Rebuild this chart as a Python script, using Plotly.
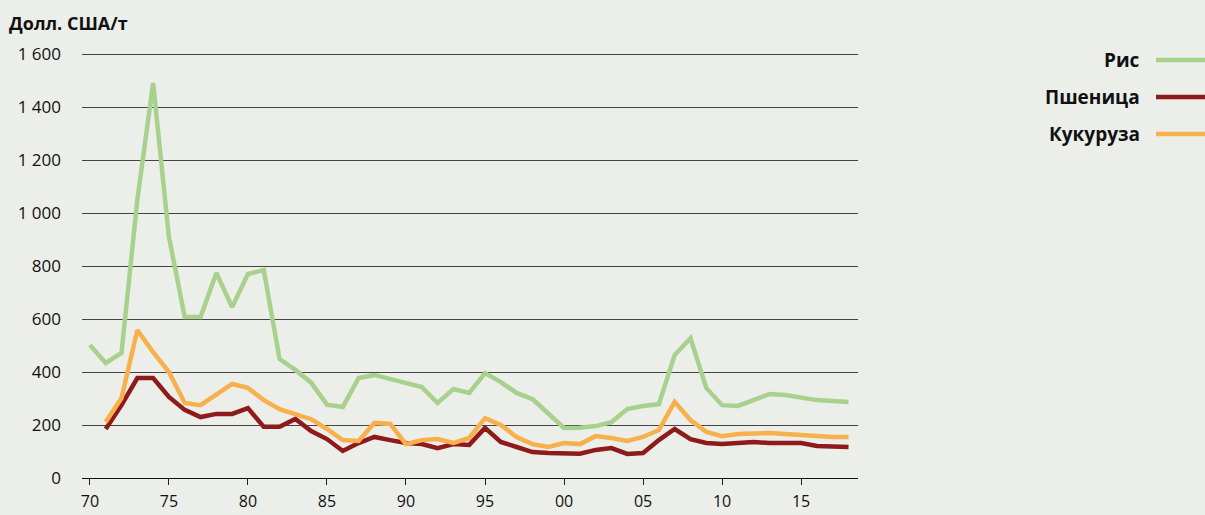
import plotly.graph_objects as go

years = list(range(1970, 2019))
rice = [502, 434, 472, 1049, 1491, 910, 608, 608, 774, 645, 770, 785, 449, 408, 360,
        277, 268, 377, 389, 374, 362, 343, 283, 336, 321, 396, 362, 321, 298, 242,
        189, 190, 196, 211, 260, 272, 279, 464, 528, 340, 275, 272, 294, 317, 313,
        302, 294, 291, 287]
wheat_years = list(range(1971, 2019))
wheat = [185, 275, 377, 377, 306, 257, 230, 242, 242, 264, 193, 193, 223, 177,
         147, 102, 132, 155, 143, 132, 128, 113, 128, 125, 189, 136, 117, 98, 94,
         91, 92, 106, 113, 91, 94, 143, 185, 147, 132, 128, 132, 136, 132, 132,
         132, 121, 117, 117]
maize = [211, 302, 558, 475, 400, 283, 275, 313, 355, 340, 294, 260, 242, 222,
         185, 143, 140, 208, 204, 128, 143, 147, 132, 151, 226, 200, 155, 128, 117,
         132, 128, 158, 151, 140, 155, 181, 287, 219, 174, 158, 166, 170, 170, 166,
         162, 158, 155, 155]

series_names = ["Рис", "Пшеница", "Кукуруза"]
series_colors = ["#A9D18E", "#8E1A1B", "#F8B04C"]

y_ticks = [0, 200, 400, 600, 800, 1000, 1200, 1400, 1600]
y_labels = ["0", "200", "400", "600", "800", "1 000", "1 200", "1 400", "1 600"]
x_ticks = [1970, 1975, 1980, 1985, 1990, 1995, 2000, 2005, 2010, 2015]
x_labels = ["70", "75", "80", "85", "90", "95", "00", "05", "10", "15"]

BG = "#ECEEE9"
fig = go.Figure()
fig.add_trace(go.Scatter(x=years, y=rice, mode="lines", name=series_names[0],
                         line=dict(color=series_colors[0], width=4.5)))
fig.add_trace(go.Scatter(x=wheat_years, y=wheat, mode="lines", name=series_names[1],
                         line=dict(color=series_colors[1], width=4.5)))
fig.add_trace(go.Scatter(x=wheat_years, y=maize, mode="lines", name=series_names[2],
                         line=dict(color=series_colors[2], width=4.5)))

L, R, T, B = 82, 347, 52, 37
W, H = 1205, 515
pw, ph = W - L - R, H - T - B

def px_x(px):
    return (px - L) / pw

def px_y(py):
    return (H - B - py) / ph

annotations = [dict(text="<b>Долл. США/т</b>", x=px_x(7), y=px_y(23), xref="paper", yref="paper",
                    xanchor="left", yanchor="middle", showarrow=False,
                    font=dict(family="Open Sans", size=18, color="#111"))]
shapes = []
leg_y = [60, 97, 134]
for name, col, yy in zip(series_names, series_colors, leg_y):
    annotations.append(dict(text="<b>" + name + "</b>", x=px_x(1142), y=px_y(yy), xref="paper", yref="paper",
                            xanchor="right", yanchor="middle", showarrow=False,
                            font=dict(family="Open Sans", size=19, color="#111")))
    shapes.append(dict(type="line", xref="paper", yref="paper", x0=px_x(1156), x1=px_x(1210),
                       y0=px_y(yy), y1=px_y(yy), line=dict(color=col, width=4.5)))

fig.update_layout(
    width=W, height=H, margin=dict(l=L, r=R, t=T, b=B, autoexpand=False),
    paper_bgcolor=BG, plot_bgcolor=BG, showlegend=False,
    font=dict(family="Open Sans, sans-serif", size=17, color="#111"),
    annotations=annotations, shapes=shapes,
    xaxis=dict(range=[1969.5, 2018.6], tickvals=x_ticks, ticktext=x_labels, showgrid=False,
               ticks="outside", ticklen=6, tickcolor="#222", tickwidth=1, automargin=False,
               ticklabelstandoff=3, tickfont=dict(size=16),
               showline=True, linecolor="#111", linewidth=1, zeroline=False),
    yaxis=dict(range=[0, 1608], tickvals=y_ticks, ticktext=y_labels, showgrid=True, automargin=False,
               gridcolor="#444", gridwidth=1, zeroline=True, zerolinecolor="#111", zerolinewidth=1,
               ticks="", ticklabelstandoff=20, showline=False),
)
fig.write_html("out.html", config={"displayModeBar": False},
               post_script="document.body.style.margin='0';document.body.style.overflow='hidden';"
                           "document.documentElement.style.background='%s';" % BG)
